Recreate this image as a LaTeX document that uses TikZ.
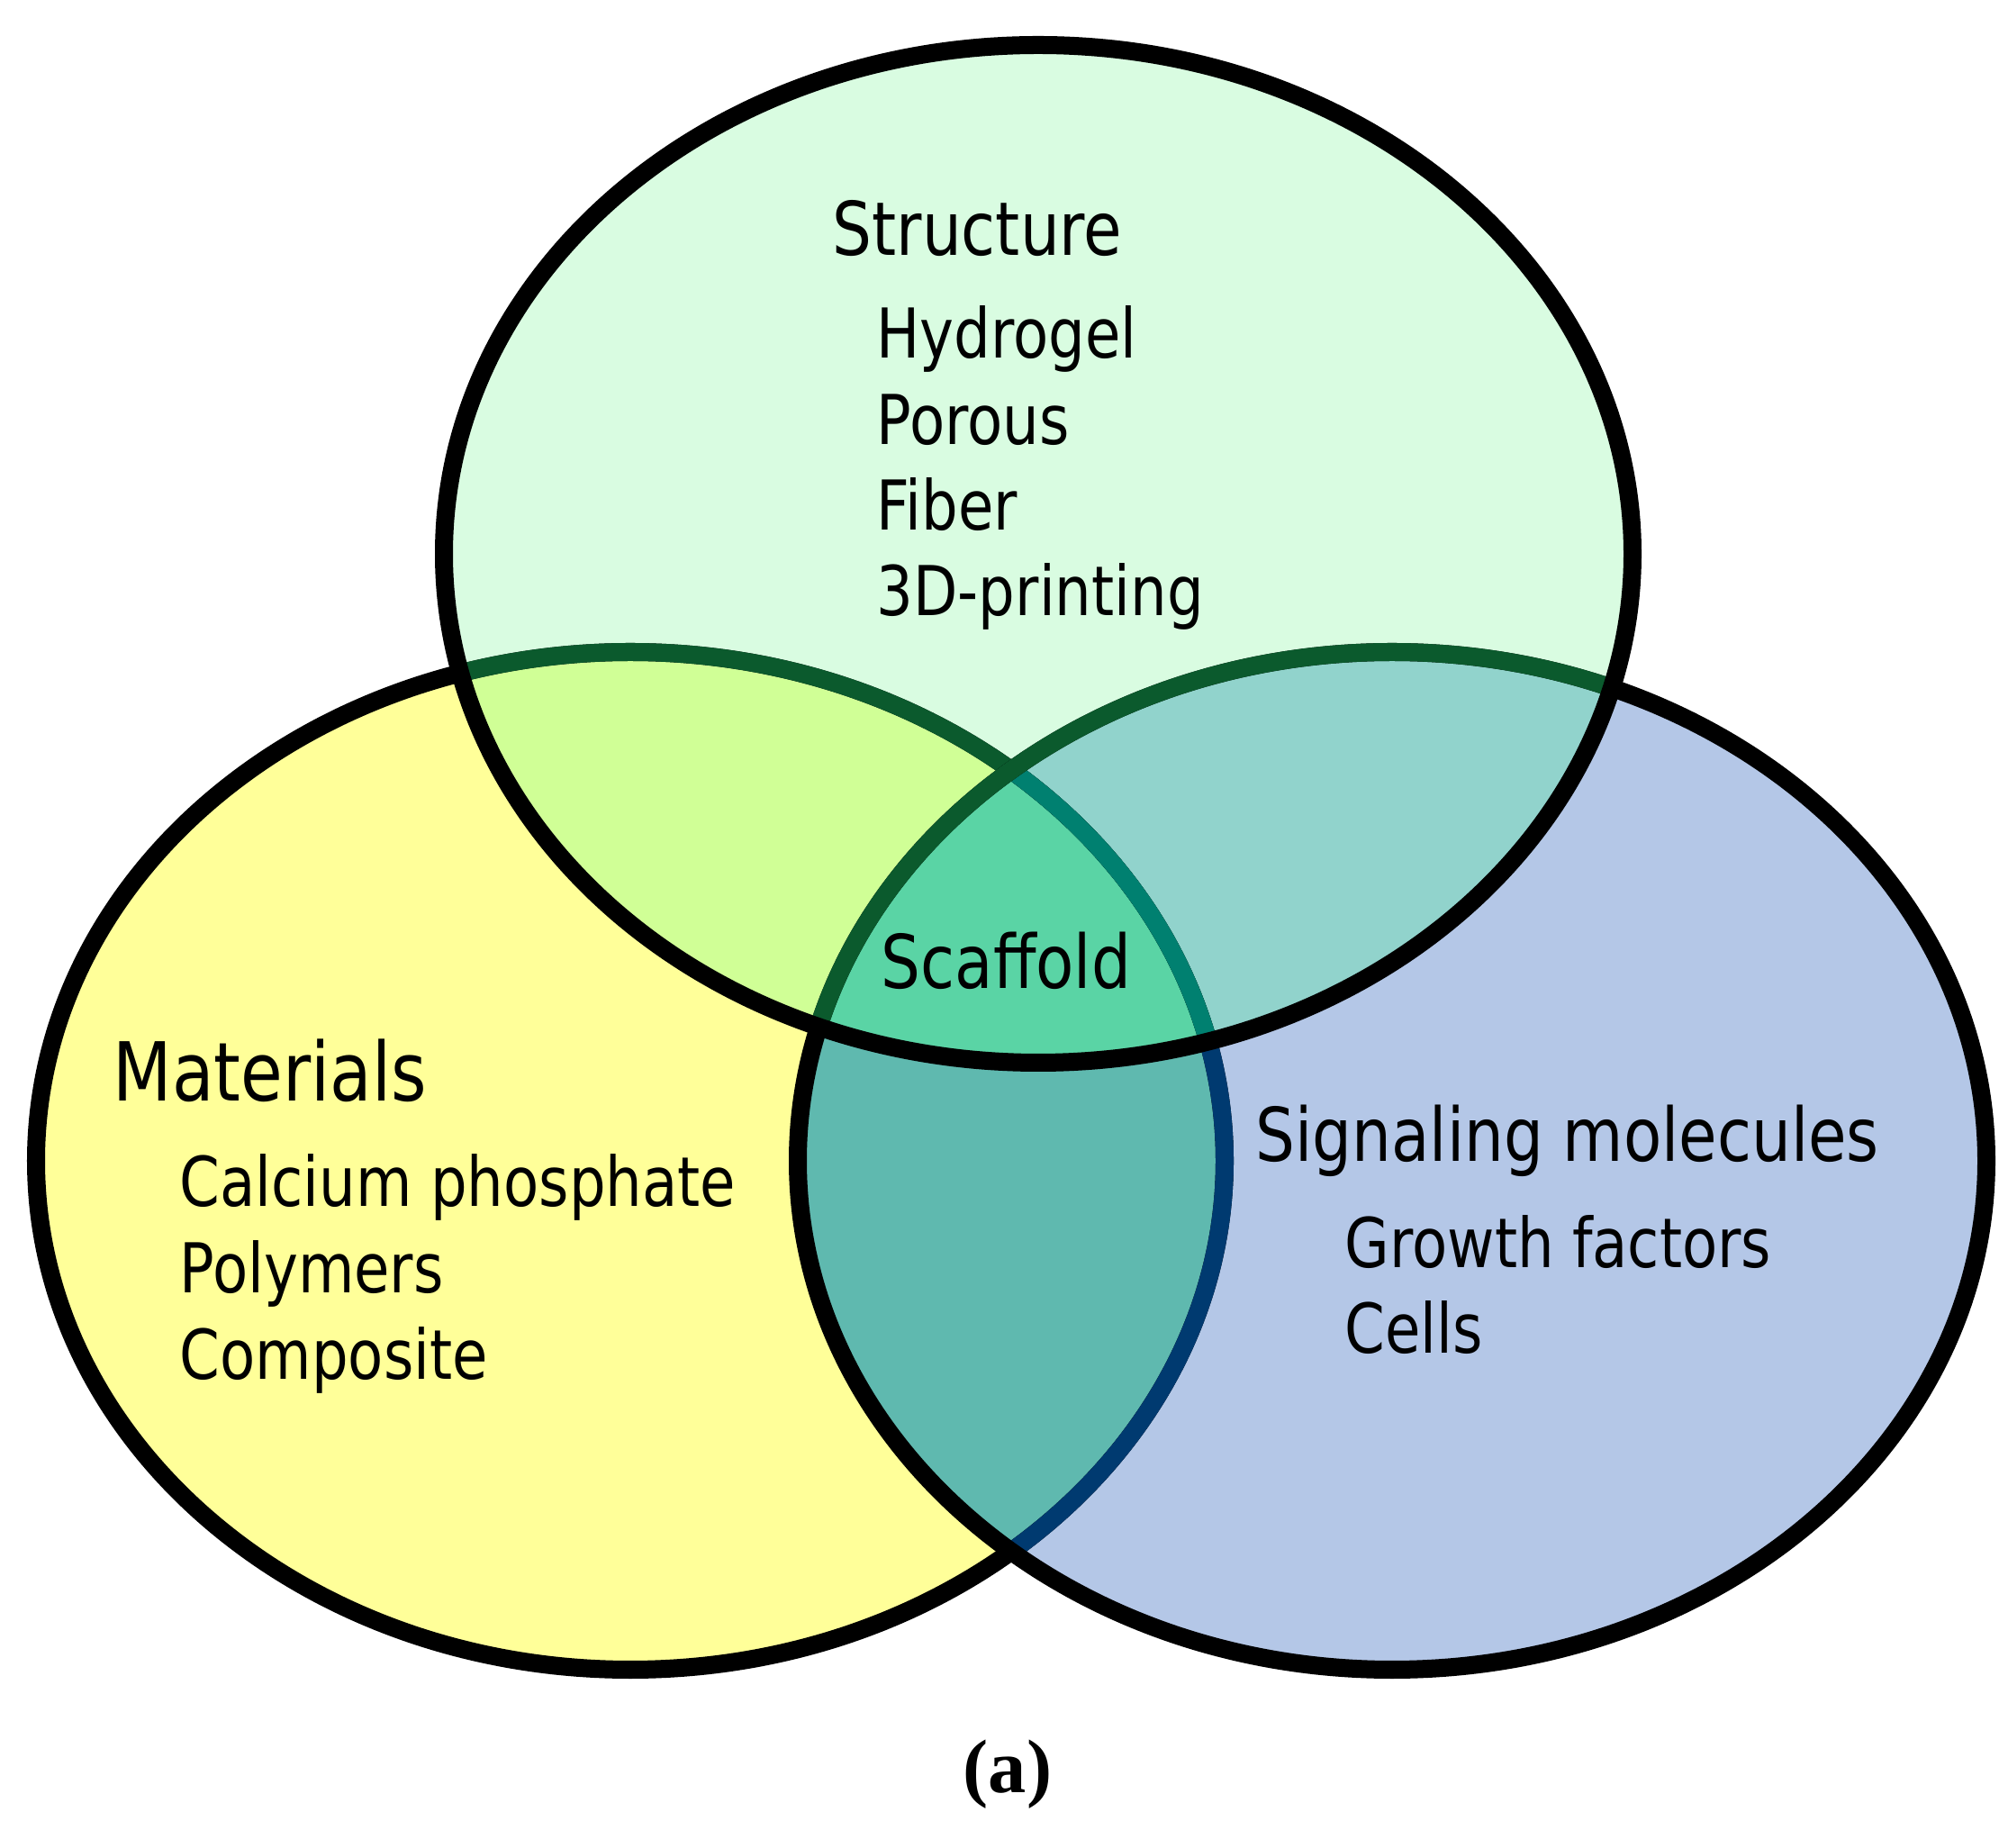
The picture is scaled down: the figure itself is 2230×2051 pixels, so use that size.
\documentclass[tikz,border=0pt]{standalone}
\usepackage{fontspec}
\setmainfont[FakeStretch=0.84]{DejaVu Sans}
\newfontfamily\capfont{Liberation Serif}
\usetikzlibrary{positioning}
\definecolor{StructFill}{RGB}{217,252,225}
\definecolor{MatFill}{RGB}{255,255,153}
\definecolor{SignalFill}{RGB}{180,199,231}
\definecolor{StructMat}{RGB}{208,255,150}
\definecolor{StructSignal}{RGB}{145,211,204}
\definecolor{MatSignal}{RGB}{95,185,175}
\definecolor{CoreFill}{RGB}{90,212,165}
\definecolor{EdgeGreen}{RGB}{11,90,45}
\definecolor{EdgeTeal}{RGB}{0,128,112}
\definecolor{EdgeBlue}{RGB}{0,58,112}
\newcommand{\structset}{(1153,1436) ellipse [x radius=660,y radius=565]}
\newcommand{\matset}{(700,762) ellipse [x radius=660,y radius=565]}
\newcommand{\signalset}{(1546,762) ellipse [x radius=660,y radius=565]}
\tikzset{
  rim/.style={line width=0.2cm},
  heading/.style={anchor=base west,inner sep=0pt,font=\fontsize{23.4}{28}\selectfont},
  entry/.style={anchor=base west,inner sep=0pt,font=\fontsize{21.7}{27}\selectfont},
}

\begin{document}
\begin{tikzpicture}[x=0.01cm,y=0.01cm]
  \useasboundingbox (0,0) rectangle (2230,2051);
  % fills
  \fill[MatFill] \matset;
  \fill[SignalFill] \signalset;
  \fill[StructFill] \structset;
  \begin{scope} \clip \matset; \fill[StructMat] \structset; \end{scope}
  \begin{scope} \clip \signalset; \fill[StructSignal] \structset; \end{scope}
  \begin{scope} \clip \matset; \fill[MatSignal] \signalset; \end{scope}
  \begin{scope} \clip \matset; \clip \signalset; \fill[CoreFill] \structset; \end{scope}
  % rims
  \draw[rim] \matset;
  \begin{scope} \clip \signalset; \draw[rim,EdgeBlue] \matset; \end{scope}
  \begin{scope} \clip \structset; \draw[rim,EdgeGreen] \matset; \end{scope}
  \begin{scope} \clip \structset; \clip \signalset; \draw[rim,EdgeTeal] \matset; \end{scope}
  \draw[rim] \signalset;
  \begin{scope} \clip \structset; \draw[rim,EdgeGreen] \signalset; \end{scope}
  \draw[rim] \structset;
  % labels
  \node[heading] (structure) at (924,1767) {Structure};
  \node[entry] (hydrogel) at (973,1653) {Hydrogel};
  \node[entry] (porous) at (973,1557) {Porous};
  \node[entry] (fiber) at (973,1462) {Fiber};
  \node[entry] (printing) at (973,1367) {3D-printing};
  \node[heading] (scaffold) at (978,953) {Scaffold};
  \node[heading,font=\fontsize{25.7}{31}\selectfont] (materials) at (125,828) {Materials};
  \node[entry] (calcium) at (199,711) {Calcium phosphate};
  \node[entry] (polymers) at (199,615) {Polymers};
  \node[entry] (composite) at (199,519) {Composite};
  \node[heading] (signaling) at (1394,761) {Signaling molecules};
  \node[entry] (growth) at (1493,643) {Growth factors};
  \node[entry] (cells) at (1493,548) {Cells};
  \node[font=\capfont\bfseries\fontsize{24}{28}\selectfont] (tag) at (1119,81) {(a)};
\end{tikzpicture}
\end{document}
